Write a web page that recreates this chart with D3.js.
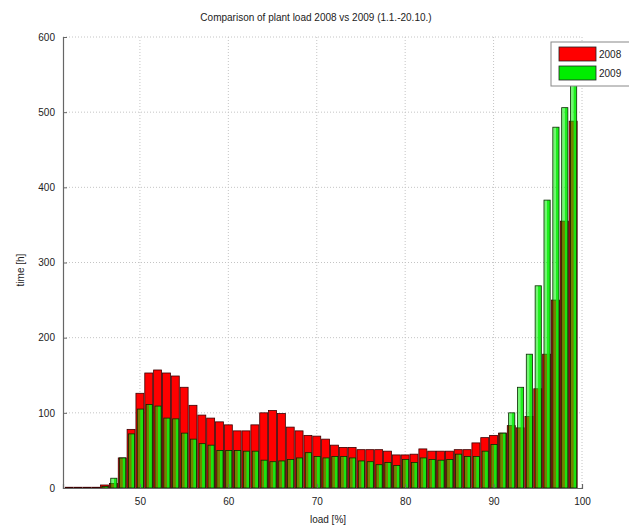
<!DOCTYPE html>
<html>
<head>
<meta charset="utf-8">
<script src="https://cdn.jsdelivr.net/npm/d3@7"></script>
<style>
  body { margin: 0; background: #fff; }
  text { font-family: "Liberation Sans", Arial, sans-serif; }
</style>
</head>
<body>
<script>
// load bins (%), one bar per integer
var bins = d3.range(42, 100);

var hours2008 = [1, 1, 1, 1, 4, 6, 40, 78, 126, 153, 157, 153, 149, 134, 110, 97, 93, 88, 84, 76,
  76, 84, 100, 103, 99, 81, 76, 70, 69, 65, 57, 54, 54, 51, 51, 51, 49, 44, 44, 45,
  52, 49, 49, 49, 51, 51, 60, 67, 70, 73, 83, 80, 95, 132, 178, 250, 355, 488];

var hours2009 = [0, 0, 0, 0, 2, 13, 40, 72, 105, 111, 109, 93, 92, 73, 65, 59, 57, 50, 50, 50,
  49, 49, 37, 35, 36, 38, 40, 47, 42, 40, 42, 42, 40, 36, 35, 31, 34, 30, 38, 34,
  40, 38, 37, 38, 45, 42, 42, 49, 58, 73, 100, 134, 178, 269, 383, 480, 506, 545];

var xTicks = [50, 60, 70, 80, 90, 100];
var yTicks = [0, 100, 200, 300, 400, 500, 600];
var legendNames = ["2008", "2009"];

var width = 629, height = 529;

var svg = d3.select("body").append("svg")
  .attr("width", width)
  .attr("height", height);

// olive on the left half of a green bar, bright green on the right
var grad = svg.append("defs").append("linearGradient").attr("id", "g09");
grad.append("stop").attr("offset", "0%").attr("stop-color", "#00ee00").attr("stop-opacity", 0.55);
grad.append("stop").attr("offset", "45%").attr("stop-color", "#00ee00").attr("stop-opacity", 0.55);
grad.append("stop").attr("offset", "55%").attr("stop-color", "#10f010").attr("stop-opacity", 0.95);
grad.append("stop").attr("offset", "100%").attr("stop-color", "#10f010").attr("stop-opacity", 0.95);

var x = d3.scaleLinear().domain([41.3, 100]).range([63, 582]);
var y = d3.scaleLinear().domain([0, 600]).range([488, 37]);
var bw = x(1) - x(0);

// grid
svg.append("g").selectAll("line.gx")
  .data(xTicks)
  .enter().append("line")
  .attr("x1", d => x(d)).attr("x2", d => x(d))
  .attr("y1", y(0)).attr("y2", y(600))
  .attr("stroke", "#c4c4c4").attr("stroke-dasharray", "1,2");

svg.append("g").selectAll("line.gy")
  .data(yTicks.slice(1))
  .enter().append("line")
  .attr("x1", x(41.3)).attr("x2", x(100))
  .attr("y1", d => y(d)).attr("y2", d => y(d))
  .attr("stroke", "#c4c4c4").attr("stroke-dasharray", "1,2");

// 2008 bars
svg.append("g").selectAll("rect")
  .data(bins)
  .enter().append("rect")
  .attr("x", (d) => x(d - 0.45))
  .attr("width", bw * 0.9)
  .attr("y", (d, i) => y(hours2008[i]))
  .attr("height", (d, i) => y(0) - y(hours2008[i]))
  .attr("fill", "#ff0000")
  .attr("stroke", "#3a0000")
  .attr("stroke-width", 0.8);

// 2009 bars
svg.append("g").selectAll("rect")
  .data(bins)
  .enter().append("rect")
  .attr("x", (d) => x(d - 0.3))
  .attr("width", bw * 0.7)
  .attr("y", (d, i) => y(hours2009[i]))
  .attr("height", (d, i) => y(0) - y(hours2009[i]))
  .attr("fill", "url(#g09)")
  .attr("stroke", "#0a2a00")
  .attr("stroke-width", 0.8);

// axes
var xAxis = svg.append("g")
  .attr("transform", "translate(0," + y(0) + ")")
  .call(d3.axisBottom(x).tickValues(xTicks).tickSize(-4).tickPadding(10));
var yAxis = svg.append("g")
  .attr("transform", "translate(" + x(41.3) + ",0)")
  .call(d3.axisLeft(y).tickValues(yTicks).tickSize(-4).tickPadding(8));

[xAxis, yAxis].forEach(function (a) {
  a.select(".domain").attr("stroke", "#666").attr("stroke-width", 1.2);
  a.selectAll(".tick line").attr("stroke", "#666");
  a.selectAll(".tick text").attr("font-size", 10).attr("fill", "#222")
    .style("font-family", "Liberation Sans, Arial, sans-serif");
});

svg.append("text")
  .attr("x", 316).attr("y", 21)
  .attr("text-anchor", "middle")
  .attr("font-size", 10).attr("fill", "#222")
  .text("Comparison of plant load 2008 vs 2009 (1.1.-20.10.)");

svg.append("text")
  .attr("x", 328).attr("y", 523)
  .attr("text-anchor", "middle")
  .attr("font-size", 10).attr("fill", "#222")
  .text("load [%]");

svg.append("text")
  .attr("transform", "translate(24,270) rotate(-90)")
  .attr("text-anchor", "middle")
  .attr("font-size", 10).attr("fill", "#222")
  .text("time [h]");

// legend
var lg = svg.append("g").attr("transform", "translate(551,42)");
lg.append("rect")
  .attr("width", 90).attr("height", 44)
  .attr("fill", "#fff").attr("stroke", "#888");
var colors = ["#ff0000", "#00ee00"];
legendNames.forEach(function (n, i) {
  lg.append("rect")
    .attr("x", 8).attr("y", 5 + i * 19)
    .attr("width", 37).attr("height", 14)
    .attr("fill", colors[i]).attr("stroke", "#222").attr("stroke-width", 0.8);
  lg.append("text")
    .attr("x", 48).attr("y", 16 + i * 19)
    .attr("font-size", 10).attr("fill", "#222")
    .text(n);
});
</script>
</body>
</html>
